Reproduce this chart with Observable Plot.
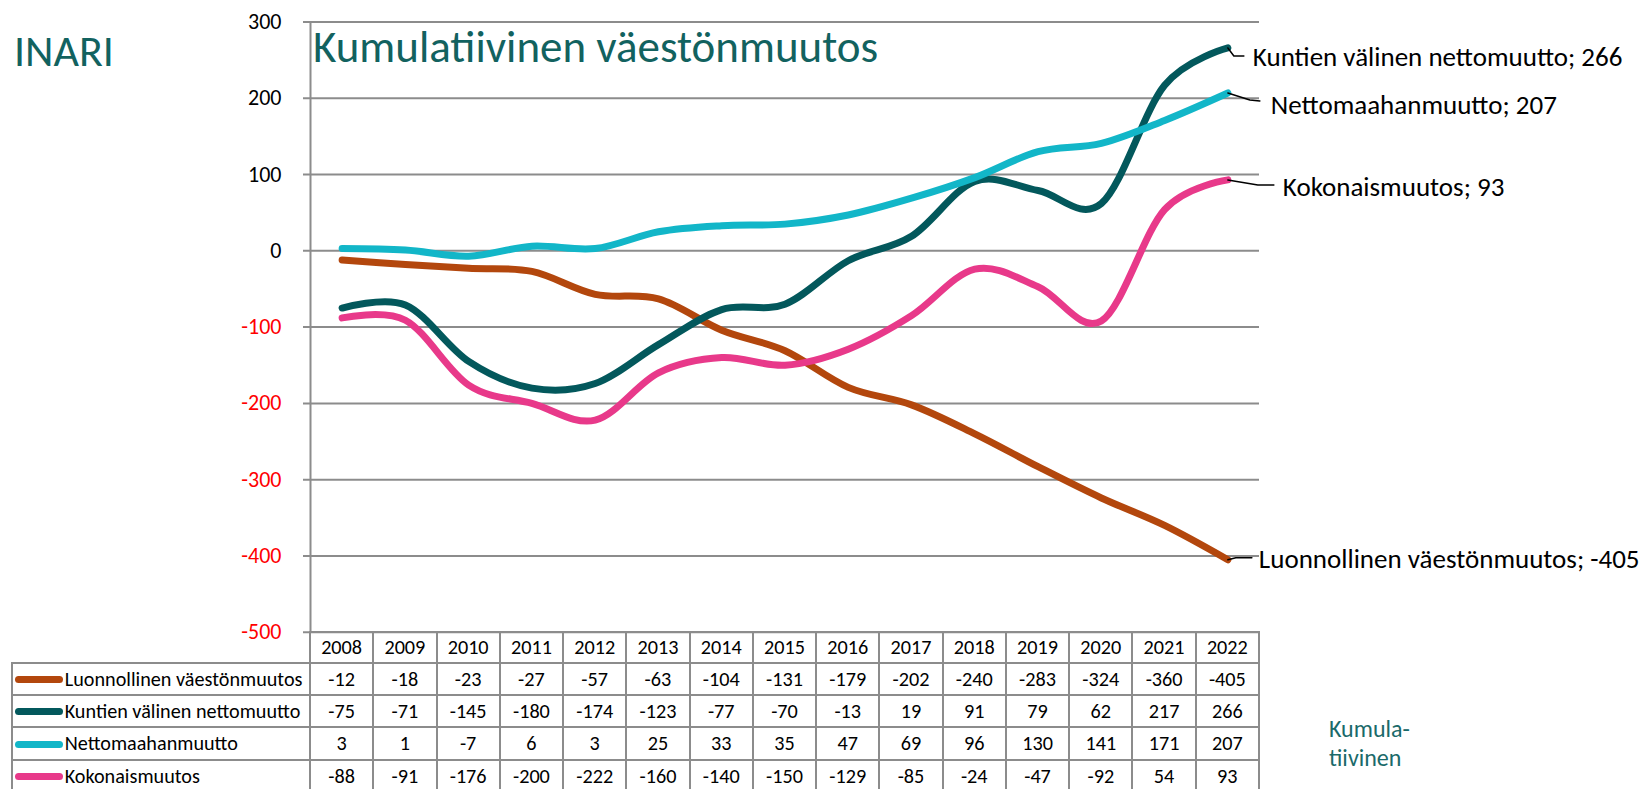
<!DOCTYPE html>
<html>
<head>
<meta charset="utf-8">
<script src="https://cdn.jsdelivr.net/npm/d3@7"></script>
<script src="https://cdn.jsdelivr.net/npm/@observablehq/plot@0.6"></script>
<style>
  body { margin: 0; background: #fff; }
  #fig { position: relative; width: 1642px; height: 789px; overflow: hidden;
         font-family: Carlito, Calibri, Lato, sans-serif; background: #fff; }
  #fig svg { position: absolute; left: 0; top: 0; }
  .htxt { position: absolute; line-height: 1; white-space: nowrap; }
  #tbl { position: absolute; border-collapse: collapse; table-layout: fixed;
         font-size: 20.2px; color: #000; }
  #tbl td { border: 2px solid #8c8c8c; padding: 0; text-align: center; box-sizing: border-box; }
  #tbl td.corner { border-top: none; border-left: none; }
  #tbl td.leg { text-align: left; white-space: nowrap; overflow: hidden; }
  .sw { display: inline-block; width: 48px; height: 7px; border-radius: 4px;
        vertical-align: middle; margin: 0 2px 3px 2px; }
</style>
</head>
<body>
<div id="fig"></div>
<script>
// ---------- data ----------
const years = [2008, 2009, 2010, 2011, 2012, 2013, 2014, 2015, 2016, 2017, 2018, 2019, 2020, 2021, 2022];
const seriesNames = ["Luonnollinen väestönmuutos", "Kuntien välinen nettomuutto", "Nettomaahanmuutto", "Kokonaismuutos"];
const luonnollinen = [-12, -18, -23, -27, -57, -63, -104, -131, -179, -202, -240, -283, -324, -360, -405];
const kuntien = [-75, -71, -145, -180, -174, -123, -77, -70, -13, 19, 91, 79, 62, 217, 266];
const netto = [3, 1, -7, 6, 3, 25, 33, 35, 47, 69, 96, 130, 141, 171, 207];
const koko = [-88, -91, -176, -200, -222, -160, -140, -150, -129, -85, -24, -47, -92, 54, 93];
const yTicks = [-500, -400, -300, -200, -100, 0, 100, 200, 300];
const titleText = "Kumulatiivinen väestönmuutos";
const placeText = "INARI";
const noteLines = ["Kumula-", "tiivinen"];

// ---------- styles ----------
const colors = ["#b3470d", "#03585c", "#12b6c8", "#e8398a"];
const gridColor = "#8c8c8c";
const W = 1642, H = 789;
const frameLeft = 310, frameRight = 1259, frameTop = 21.5, frameBottom = 631.7;
// label offsets (px) relative to the end point: leader polyline & text
const labelStyle = [
  {leader: [[0, 0], [8, -2], [24, -2]], dx: 31, dy: 0},
  {leader: [[0, 0], [6, 8], [16, 8]], dx: 25, dy: 9},
  {leader: [[0, 0], [22, 7], [32, 8]], dx: 43, dy: 12},
  {leader: [[0, 0], [30, 5], [46, 5]], dx: 55, dy: 7}
];

const seriesValues = [luonnollinen, kuntien, netto, koko];
const data = seriesValues.flatMap((vals, s) => vals.map((v, i) => ({series: seriesNames[s], s, year: years[i], value: v})));
const last = seriesValues.map((vals, s) => ({series: seriesNames[s], s, year: years[years.length - 1], value: vals[vals.length - 1]}));

const xDomain = [years[0] - 0.5, years[years.length - 1] + 0.5];
const yDomain = [yTicks[0], yTicks[yTicks.length - 1]];
const kx = (frameRight - frameLeft) / (xDomain[1] - xDomain[0]);
const ky = (frameBottom - frameTop) / (yDomain[1] - yDomain[0]);

const leaders = last.flatMap(d => labelStyle[d.s].leader.map(([px, py]) => ({
  s: d.s, x: d.year + px / kx, y: d.value - py / ky
})));

const plot = Plot.plot({
  width: W, height: H,
  marginLeft: frameLeft, marginRight: W - frameRight, marginTop: frameTop, marginBottom: H - frameBottom,
  x: {domain: xDomain, axis: null},
  y: {domain: yDomain, axis: null},
  style: {fontFamily: "Carlito, Calibri, Lato, sans-serif", background: "transparent"},
  marks: [
    Plot.ruleY(yTicks, {stroke: gridColor, strokeWidth: 2, insetLeft: -7}),
    Plot.ruleX([xDomain[0]], {y1: yDomain[0], y2: yDomain[1], stroke: gridColor, strokeWidth: 2}),
    Plot.text(yTicks.filter(d => d >= 0), {y: d => d, frameAnchor: "left", dx: -29, textAnchor: "end", fontSize: 22, fill: "#000"}),
    Plot.text(yTicks.filter(d => d < 0), {y: d => d, frameAnchor: "left", dx: -29, textAnchor: "end", fontSize: 22, fill: "#ff0000"}),
    ...seriesNames.map((name, s) => Plot.line(data.filter(d => d.s === s), {
      x: "year", y: "value", stroke: colors[s], strokeWidth: 7, curve: "cardinal", strokeLinecap: "round", strokeLinejoin: "round"
    })),
    Plot.line(leaders, {x: "x", y: "y", z: "s", stroke: "#000", strokeWidth: 1.5}),
    ...last.map(d => Plot.text([d], {
      x: "year", y: "value", text: e => `${e.series}; ${e.value}`,
      dx: labelStyle[d.s].dx, dy: labelStyle[d.s].dy, textAnchor: "start", fontSize: 27, fill: "#000"
    }))
  ]
});

const fig = document.getElementById("fig");
fig.appendChild(plot);

const xs = plot.scale("x");
const colW = xs.apply(years[1]) - xs.apply(years[0]);
const tableLeft = 11.7;
const legW = xs.apply(xDomain[0]) - tableLeft;

// texts
const addText = (txt, x, cy, size, color) => {
  const d = document.createElement("div");
  d.className = "htxt";
  d.textContent = txt;
  d.style.left = x + "px";
  d.style.top = (cy - size * 0.58) + "px";
  d.style.fontSize = size + "px";
  d.style.color = color;
  fig.appendChild(d);
};
addText(placeText, 14, 55, 44, "#12625f");
addText(titleText, 313, 50, 45, "#12625f");
addText(noteLines[0], 1329, 731, 24, "#1a6a6a");
addText(noteLines[1], 1329, 760, 24, "#1a6a6a");

// table
const tbl = document.createElement("table");
tbl.id = "tbl";
tbl.style.left = (tableLeft - 1) + "px";
tbl.style.top = (frameBottom - 1) + "px";
const cg = document.createElement("colgroup");
[legW, ...years.map(() => colW)].forEach(w => {
  const c = document.createElement("col"); c.style.width = w + "px"; cg.appendChild(c);
});
tbl.appendChild(cg);
tbl.style.width = (legW + colW * years.length + 2) + "px";
const hr = document.createElement("tr");
hr.style.height = "31px";
const corner = document.createElement("td"); corner.className = "corner"; hr.appendChild(corner);
years.forEach(y => { const td = document.createElement("td"); td.textContent = y; hr.appendChild(td); });
tbl.appendChild(hr);
seriesValues.forEach((vals, s) => {
  const tr = document.createElement("tr");
  tr.style.height = "32.3px";
  const lg = document.createElement("td"); lg.className = "leg";
  const sw = document.createElement("span"); sw.className = "sw"; sw.style.background = colors[s];
  lg.appendChild(sw); lg.appendChild(document.createTextNode(seriesNames[s]));
  tr.appendChild(lg);
  vals.forEach(v => { const td = document.createElement("td"); td.textContent = v; tr.appendChild(td); });
  tbl.appendChild(tr);
});
fig.appendChild(tbl);
</script>
</body>
</html>
